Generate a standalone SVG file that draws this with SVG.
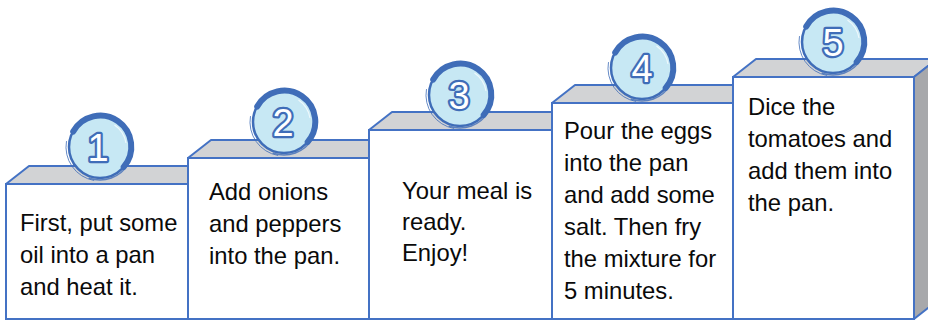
<svg xmlns="http://www.w3.org/2000/svg" xmlns:xlink="http://www.w3.org/1999/xlink" width="928" height="323" viewBox="0 0 928 323">
<style>
.front{fill:#ffffff;stroke:#4472C4;stroke-width:2}
.top{fill:#D2D3D5;stroke:#4472C4;stroke-width:2;stroke-linejoin:round}
.side{fill:#A7A8AB;stroke:#4472C4;stroke-width:2;stroke-linejoin:round}
.txt{font-family:"Liberation Sans",Arial,sans-serif;font-size:23.8px;fill:#0a0a0a}
.num{font-family:"Liberation Sans",Arial,sans-serif;font-size:38px;fill:#ffffff;stroke:#3F6DB8;stroke-width:4.5;paint-order:stroke;stroke-linejoin:round;text-anchor:middle}
</style>
<defs>
<g id="ring">
<circle r="31" fill="#C7E8F4" stroke="#3F6DB8" stroke-width="2.5"/>
<path d="M -26.8 -15.5 A 31 31 0 1 1 23.7 19.9" fill="none" stroke="#3F6DB8" stroke-width="6" stroke-linecap="round"/>
<path d="M -5.9 33.5 A 34 34 0 0 1 -33.5 -5.9" fill="none" stroke="#3F6DB8" stroke-width="1" opacity="0.8"/>
<path d="M 28.6 16.5 A 33 33 0 0 1 -11.3 31" fill="none" stroke="#3F6DB8" stroke-width="1.5" opacity="0.8"/>
<path d="M 14.5 -22 A 27 27 0 0 1 26 -4" fill="none" stroke="#ffffff" stroke-width="1.2" opacity="0.7"/>
</g>
</defs>
<g id="box1">
<path class="top" d="M6,184 L29,166 L211,166 L188,184 Z"/>
<path class="side" d="M188,184 L211,166 L211,301 L188,319 Z"/>
<rect class="front" x="6" y="184" width="182" height="135"/>
<text class="txt"><tspan x="20" y="231">First, put some</tspan><tspan x="20" y="263">oil into a pan</tspan><tspan x="20" y="295">and heat it.</tspan></text>
</g>
<g id="box2">
<path class="top" d="M188,158 L211,140 L392,140 L369,158 Z"/>
<path class="side" d="M369,158 L392,140 L392,301 L369,319 Z"/>
<rect class="front" x="188" y="158" width="181" height="161"/>
<text class="txt"><tspan x="209" y="200">Add onions</tspan><tspan x="209" y="232">and peppers</tspan><tspan x="209" y="264">into the pan.</tspan></text>
</g>
<g id="box3">
<path class="top" d="M369,130 L392,112 L575,112 L552,130 Z"/>
<path class="side" d="M552,130 L575,112 L575,301 L552,319 Z"/>
<rect class="front" x="369" y="130" width="183" height="189"/>
<text class="txt"><tspan x="402" y="199">Your meal is</tspan><tspan x="402" y="230">ready.</tspan><tspan x="402" y="261">Enjoy!</tspan></text>
</g>
<g id="box4">
<path class="top" d="M552,103 L575,85 L756,85 L733,103 Z"/>
<path class="side" d="M733,103 L756,85 L756,301 L733,319 Z"/>
<rect class="front" x="552" y="103" width="181" height="216"/>
<text class="txt"><tspan x="564" y="139">Pour the eggs</tspan><tspan x="564" y="171">into the pan</tspan><tspan x="564" y="203">and add some</tspan><tspan x="564" y="235">salt. Then fry</tspan><tspan x="564" y="267">the mixture for</tspan><tspan x="564" y="299">5 minutes.</tspan></text>
</g>
<g id="box5">
<path class="top" d="M733,77 L756,59 L937,59 L914,77 Z"/>
<path class="side" d="M914,77 L937,59 L937,301 L914,319 Z"/>
<rect class="front" x="733" y="77" width="181" height="242"/>
<text class="txt"><tspan x="748" y="115">Dice the</tspan><tspan x="748" y="147">tomatoes and</tspan><tspan x="748" y="179">add them into</tspan><tspan x="748" y="211">the pan.</tspan></text>
</g>
<g id="badge1"><use xlink:href="#ring" x="100" y="147"/><text class="num" x="98" y="161">1</text></g>
<g id="badge2"><use xlink:href="#ring" x="284" y="122"/><text class="num" x="283" y="136">2</text></g>
<g id="badge3"><use xlink:href="#ring" x="460" y="95"/><text class="num" x="459" y="109">3</text></g>
<g id="badge4"><use xlink:href="#ring" x="642" y="68"/><text class="num" x="642" y="82">4</text></g>
<g id="badge5"><use xlink:href="#ring" x="833" y="42"/><text class="num" x="833" y="56">5</text></g>
<g id="connectors"/>
</svg>
